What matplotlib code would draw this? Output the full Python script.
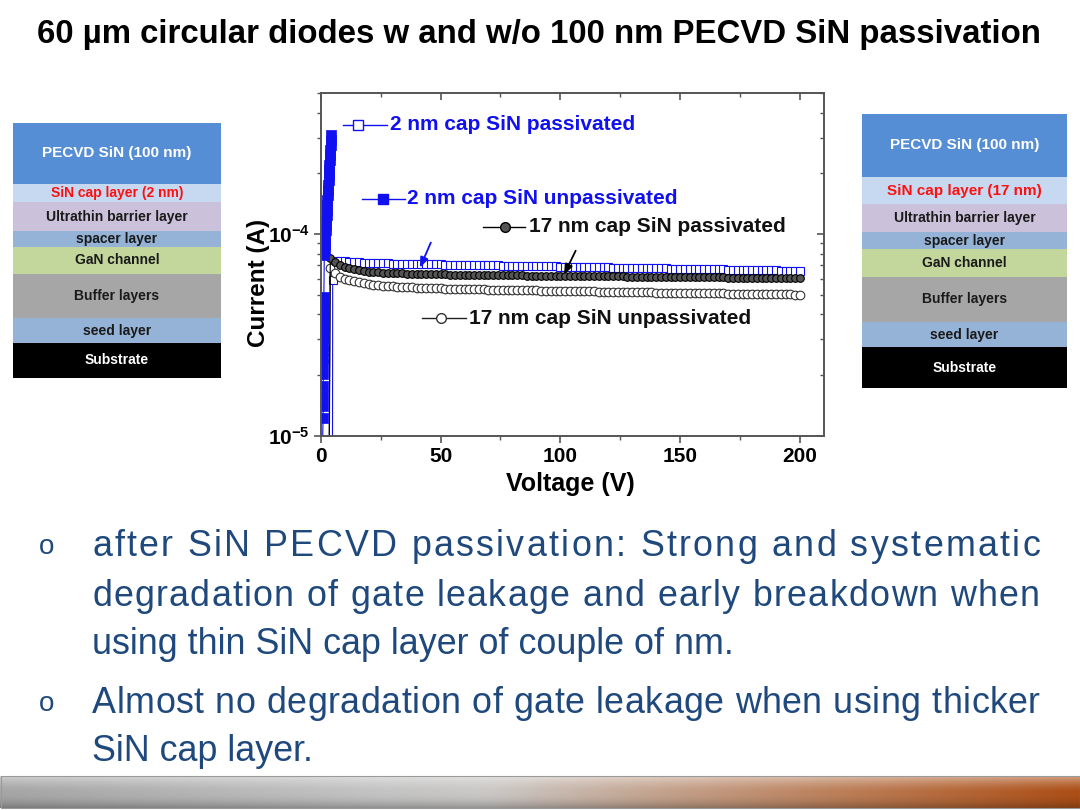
import numpy as np
import matplotlib
matplotlib.use('Agg')
import matplotlib.pyplot as plt
from matplotlib.patches import Rectangle
from matplotlib.ticker import LogLocator, NullFormatter, MultipleLocator

plt.rcParams['font.family'] = ['Liberation Sans', 'DejaVu Sans']
plt.rcParams['mathtext.fontset'] = 'custom'
plt.rcParams['mathtext.rm'] = 'Liberation Sans'
plt.rcParams['mathtext.bf'] = 'Liberation Sans:bold'

W, H = 1080, 810

#--------------------------------------
# data (currents in units of 1e-5 A)
#--------------------------------------
titleText = "60 µm circular diodes w and w/o 100 nm PECVD SiN passivation"

# common voltage sweep of the flat part
vSweep = np.arange(6, 201, 2)

# 2 nm cap, unpassivated: early breakdown
v2nmUnpass = [0.3, 1.0, 1.02, 1.04, 1.06, 1.08, 1.1, 1.12, 1.14, 1.16, 1.18, 1.2,
              1.22, 1.24, 1.26, 1.28, 1.3, 1.32,
              1.5, 1.62, 1.74, 1.86, 1.98, 2.1, 2.22, 2.34, 2.46, 2.58, 2.7, 2.82,
              2.94, 3.06, 3.18, 3.3, 3.42, 3.54, 3.66, 3.78, 3.9, 4.02, 4.14, 4.26, 4.4]
i2nmUnpass = [0.5, 1.23, 1.41, 1.58, 1.77, 2.03, 2.28, 2.44, 2.62, 2.80, 3.00, 3.22,
              3.45, 3.69, 3.95, 4.24, 4.54, 4.86,
              7.86, 8.32, 8.81, 9.33, 9.89, 10.47, 11.09, 11.74, 12.43, 13.16, 13.93, 14.76,
              15.63, 16.55, 17.53, 18.56, 19.66, 20.82, 22.04, 23.34, 24.72, 26.18, 27.72, 29.36, 31.09]

# 2 nm cap, passivated
v2nmPassLead = [4.9, 5.0]
i2nmPassLead = [0.5, 5.9]
i2nmPass = [7.35, 7.34, 7.31, 7.28, 7.25, 7.23, 7.21, 7.19, 7.18, 7.17,
            7.16, 7.15, 7.14, 7.13, 7.12, 7.11, 7.10, 7.10, 7.09, 7.08,
            7.07, 7.07, 7.06, 7.05, 7.05, 7.04, 7.03, 7.03, 7.02, 7.01,
            7.01, 7.00, 6.99, 6.99, 6.98, 6.97, 6.97, 6.96, 6.95, 6.95,
            6.94, 6.93, 6.93, 6.92, 6.91, 6.91, 6.90, 6.89, 6.89, 6.88,
            6.87, 6.87, 6.86, 6.85, 6.85, 6.84, 6.83, 6.83, 6.82, 6.81,
            6.81, 6.80, 6.79, 6.79, 6.78, 6.77, 6.77, 6.76, 6.75, 6.75,
            6.74, 6.73, 6.73, 6.72, 6.71, 6.71, 6.70, 6.69, 6.69, 6.68,
            6.67, 6.67, 6.66, 6.65, 6.65, 6.64, 6.63, 6.63, 6.62, 6.61,
            6.61, 6.60, 6.60, 6.59, 6.58, 6.58, 6.57, 6.57]

# 17 nm cap, passivated
v17PassLead = [3.4, 4.0]
i17PassLead = [0.5, 7.6]
i17Pass = [7.25, 7.00, 6.85, 6.75, 6.67, 6.60, 6.55, 6.51, 6.48, 6.45,
           6.43, 6.41, 6.39, 6.38, 6.37, 6.36, 6.35, 6.34, 6.33, 6.32,
           6.31, 6.31, 6.30, 6.30, 6.29, 6.29, 6.28, 6.28, 6.27, 6.27,
           6.26, 6.26, 6.25, 6.25, 6.25, 6.24, 6.24, 6.23, 6.23, 6.23,
           6.22, 6.22, 6.22, 6.21, 6.21, 6.21, 6.20, 6.20, 6.20, 6.19,
           6.19, 6.19, 6.18, 6.18, 6.18, 6.17, 6.17, 6.17, 6.16, 6.16,
           6.16, 6.15, 6.15, 6.15, 6.14, 6.14, 6.14, 6.13, 6.13, 6.13,
           6.12, 6.12, 6.12, 6.11, 6.11, 6.11, 6.10, 6.10, 6.10, 6.09,
           6.09, 6.09, 6.08, 6.08, 6.08, 6.07, 6.07, 6.07, 6.06, 6.06,
           6.06, 6.05, 6.05, 6.05, 6.04, 6.04, 6.04, 6.04]

# 17 nm cap, unpassivated
v17UnpassLead = [3.5, 4.0]
i17UnpassLead = [0.5, 6.8]
i17Unpass = [6.40, 6.15, 6.00, 5.90, 5.82, 5.75, 5.70, 5.65, 5.61, 5.58,
             5.55, 5.52, 5.50, 5.48, 5.46, 5.44, 5.43, 5.42, 5.41, 5.40,
             5.39, 5.38, 5.37, 5.36, 5.35, 5.35, 5.34, 5.33, 5.33, 5.32,
             5.31, 5.31, 5.30, 5.30, 5.29, 5.29, 5.28, 5.27, 5.27, 5.26,
             5.26, 5.25, 5.25, 5.24, 5.24, 5.23, 5.23, 5.22, 5.22, 5.21,
             5.21, 5.20, 5.20, 5.19, 5.19, 5.18, 5.18, 5.17, 5.17, 5.16,
             5.16, 5.15, 5.15, 5.14, 5.14, 5.13, 5.13, 5.12, 5.12, 5.12,
             5.11, 5.11, 5.10, 5.10, 5.10, 5.09, 5.09, 5.08, 5.08, 5.08,
             5.07, 5.07, 5.06, 5.06, 5.06, 5.05, 5.05, 5.04, 5.04, 5.04,
             5.03, 5.03, 5.03, 5.02, 5.02, 5.02, 5.01, 5.01]

seriesLabels = ["2 nm cap SiN passivated", "2 nm cap SiN unpassivated",
                "17 nm cap SiN passivated", "17 nm cap SiN unpassivated"]

# layer stacks
layerNames = ["PECVD SiN (100 nm)", "SiN cap layer (2 nm)", "Ultrathin barrier layer",
              "spacer layer", "GaN channel", "Buffer layers", "seed layer", "Substrate"]
layerNamesRight = ["PECVD SiN (100 nm)", "SiN cap layer (17 nm)", "Ultrathin barrier layer",
                   "spacer layer", "GaN channel", "Buffer layers", "seed layer", "Substrate"]

# text, has bullet, justified
bulletLines = [
    ["after SiN PECVD passivation: Strong and systematic", True, True],
    ["degradation of gate leakage and early breakdown when", False, True],
    ["using thin SiN cap layer of couple of nm.", False, False],
    ["Almost no degradation of gate leakage when using thicker", True, True],
    ["SiN cap layer.", False, False],
]

#--------------------------------------
# styles / layout
#--------------------------------------
blue = '#1010f0'
textBlue = '#1F497D'
layerColors = ['#558ED5', '#C6D9F1', '#CCC1DA', '#95B3D7', '#C3D69B', '#A6A6A6', '#95B3D7', '#000000']
layerTextColors = ['white', '#ff1010', '#1a1a1a', '#1a1a1a', '#1a1a1a', '#1a1a1a', '#1a1a1a', 'white']
leftBounds = [123, 184, 202, 231, 247, 274, 318, 343, 378]
rightBounds = [114, 177, 204, 232, 249, 277, 322, 347, 388]


def drawStack(ax, x0, x1, bounds, names, sizes):
    for k in range(len(names)):
        y0, y1 = bounds[k], bounds[k + 1]
        ax.add_patch(Rectangle((x0, y0), x1 - x0, y1 - y0, facecolor=layerColors[k],
                               edgecolor='none'))
        ax.text(0.5 * (x0 + x1), 0.5 * (y0 + y1), names[k], ha='center', va='center',
                fontsize=sizes[k], fontweight='bold', color=layerTextColors[k])


def placeLine(ax, text, x0, x1, yb, justify, **kw):
    if not justify:
        ax.text(x0, yb, text, ha='left', va='baseline', **kw)
        return
    # justified: spread the extra room evenly between all characters
    r = ax.figure.canvas.get_renderer()
    probe = ax.text(0, 0, '', **kw)

    def width(s):
        probe.set_text(s)
        return probe.get_window_extent(r).width

    ws = []
    for c in text:
        if c == ' ':
            ws.append(width('a a') - width('aa'))
        else:
            ws.append(width(c))
    probe.remove()
    extra = ((x1 - x0) - sum(ws)) / (len(text) - 1)
    x = x0
    for c, w in zip(text, ws):
        if c != ' ':
            ax.text(x, yb, c, ha='left', va='baseline', **kw)
        x += w + extra


fig = plt.figure(figsize=(10.8, 8.1), dpi=100)
fig.patch.set_facecolor('white')

# background layer in pixel coordinates
bg = fig.add_axes([0, 0, 1, 1], zorder=0)
bg.axis('off')

# bottom gradient bar
cols = np.array([[165, 165, 165], [195, 195, 195], [202, 200, 198], [196, 165, 145],
                 [186, 122, 82], [172, 78, 22]]) / 255.0
stops = [0.0, 0.35, 0.45, 0.6, 0.8, 1.0]
xs = np.linspace(0, 1, 400)
row = np.stack([np.interp(xs, stops, cols[:, c]) for c in range(3)], axis=1)
vs = np.linspace(0, 1, 32)
shade = np.where(vs < 0.5, 0.45 * (1 - vs / 0.5) ** 1.5, -0.25 * ((vs - 0.5) / 0.5) ** 2)
img = np.empty((32, 400, 3))
for j in range(32):
    if shade[j] >= 0:
        img[j] = row + (1 - row) * shade[j]
    else:
        img[j] = row * (1 + shade[j])
bg.imshow(img, extent=(0, W, 808, 776), aspect='auto', interpolation='bilinear')
bg.add_patch(Rectangle((0.5, 776), W - 1, 32, facecolor='none', edgecolor='#9a9a9a', lw=0.8))
bg.set_xlim(0, W)
bg.set_ylim(H, 0)

# title
bg.text(W / 2 - 1, 34, titleText, ha='center', va='center', fontsize=23.8, fontweight='bold',
        color='black')

# stacks
drawStack(bg, 13, 221, leftBounds, layerNames, [11, 10, 10, 10, 10, 10, 10, 10])
drawStack(bg, 862, 1067, rightBounds, layerNamesRight, [11, 11, 10, 10, 10, 10, 10, 10])

# bullets
baselines = [556, 606, 654, 713, 761]
for k, (txt, bullet, just) in enumerate(bulletLines):
    if bullet:
        bg.text(47, baselines[k] - 2, 'o', ha='center', va='baseline', fontsize=20,
                color=textBlue)
    placeLine(bg, txt, 92, 1040, baselines[k], just, fontsize=25.8, color=textBlue)

#--------------------------------------
# the I-V chart
#--------------------------------------
ax = fig.add_axes([320.7 / W, 1 - 435.7 / H, 503.3 / W, 342.7 / H], zorder=2)
ax.set_facecolor('none')
sc = 1e-5

ax.plot(list(v2nmPassLead) + list(vSweep), sc * np.array(i2nmPassLead + i2nmPass), '-s',
        color=blue, lw=0.8, ms=6.3, mfc='white', mec=blue, mew=0.8)
ax.plot(list(v17UnpassLead) + list(vSweep), sc * np.array(i17UnpassLead + i17Unpass), '-o',
        color='#222222', lw=0.8, ms=6.2, mfc='white', mec='#333333', mew=0.8)
ax.plot(list(v17PassLead) + list(vSweep), sc * np.array(i17PassLead + i17Pass), '-o',
        color='black', lw=0.8, ms=5.5, mfc='#555555', mec='black', mew=0.8)
ax.plot(v2nmUnpass, sc * np.array(i2nmUnpass), '-s', color=blue, lw=0.8, ms=7,
        mfc=blue, mec=blue, mew=0.5)

ax.set_yscale('log')
ax.set_xlim(0, 210)
ax.set_ylim(1e-5, 5e-4)

ax.set_yticks([1e-5, 1e-4])
ax.set_yticklabels([r'$\mathbf{10^{-5}}$', r'$\mathbf{10^{-4}}$'])
ax.yaxis.set_minor_locator(LogLocator(base=10, subs=np.arange(2, 10)))
ax.yaxis.set_minor_formatter(NullFormatter())
ax.xaxis.set_major_locator(MultipleLocator(50))
ax.xaxis.set_minor_locator(MultipleLocator(25))
ax.tick_params(axis='both', which='major', direction='out', length=5, width=1.2,
               color='#555555', labelsize=15, pad=3)
ax.tick_params(axis='both', which='minor', direction='out', length=3, width=1.0,
               color='#555555')
for lab in ax.get_xticklabels():
    lab.set_fontweight('bold')
for sp in ax.spines.values():
    sp.set_color('#555555')
    sp.set_linewidth(1.4)

# mirrored ticks pointing inward on top/right
top = ax.secondary_xaxis('top')
top.xaxis.set_major_locator(MultipleLocator(50))
top.xaxis.set_minor_locator(MultipleLocator(25))
top.tick_params(which='major', direction='in', length=5, width=1.2, color='#555555',
                labeltop=False)
top.tick_params(which='minor', direction='in', length=3, width=1.0, color='#555555')
right = ax.secondary_yaxis('right')
right.set_yticks([1e-5, 1e-4])
right.yaxis.set_minor_locator(LogLocator(base=10, subs=np.arange(2, 10)))
right.yaxis.set_minor_formatter(NullFormatter())
right.tick_params(which='major', direction='in', length=5, width=1.2, color='#555555',
                  labelright=False)
right.tick_params(which='minor', direction='in', length=3, width=1.0, color='#555555')
top.spines['top'].set_visible(False)
right.spines['right'].set_visible(False)

# in-plot legend entries: (line x0, x1, marker x, y, text x) in axes fraction
legendPos = [(0.044, 0.132, 0.074, 0.907, 0.138),
             (0.082, 0.167, 0.124, 0.691, 0.171),
             (0.322, 0.406, 0.366, 0.609, 0.413),
             (0.201, 0.289, 0.239, 0.343, 0.295)]
legendStyle = [dict(color=blue, marker='s', mfc='white', mec=blue, ms=7),
               dict(color=blue, marker='s', mfc=blue, mec=blue, ms=7),
               dict(color='black', marker='o', mfc='#555555', mec='black', ms=7),
               dict(color='#222222', marker='o', mfc='white', mec='#333333', ms=7)]
legendText = [blue, blue, '#111111', '#111111']
for k in range(4):
    x0, x1, xm, y, xt = legendPos[k]
    st = legendStyle[k]
    ax.plot([x0, x1], [y, y], '-', color=st['color'], lw=1.0, transform=ax.transAxes,
            clip_on=False)
    ax.plot([xm], [y], linestyle='none', marker=st['marker'], mfc=st['mfc'], mec=st['mec'],
            ms=st['ms'], mew=1.0, transform=ax.transAxes, clip_on=False)
    ax.text(xt, y, seriesLabels[k], transform=ax.transAxes, ha='left', va='center',
            fontsize=15, fontweight='bold', color=legendText[k])

ax.annotate('', xy=(0.195, 0.483), xytext=(0.221, 0.571), xycoords='axes fraction',
            arrowprops=dict(arrowstyle='-|>,head_length=0.5,head_width=0.2', color=blue,
                            lw=1.3, mutation_scale=12))
ax.annotate('', xy=(0.481, 0.463), xytext=(0.509, 0.547), xycoords='axes fraction',
            arrowprops=dict(arrowstyle='-|>,head_length=0.5,head_width=0.2', color='black',
                            lw=1.3, mutation_scale=12))

# axis labels
fig.text(570 / W, 1 - 484 / H, 'Voltage (V)', ha='center', va='center', fontsize=18,
         fontweight='bold')
fig.text(258 / W, 1 - 283 / H, 'Current (A)', ha='center', va='center', fontsize=17.5,
         fontweight='bold', rotation=90)

fig.savefig('out.png', dpi=100, facecolor='white')
